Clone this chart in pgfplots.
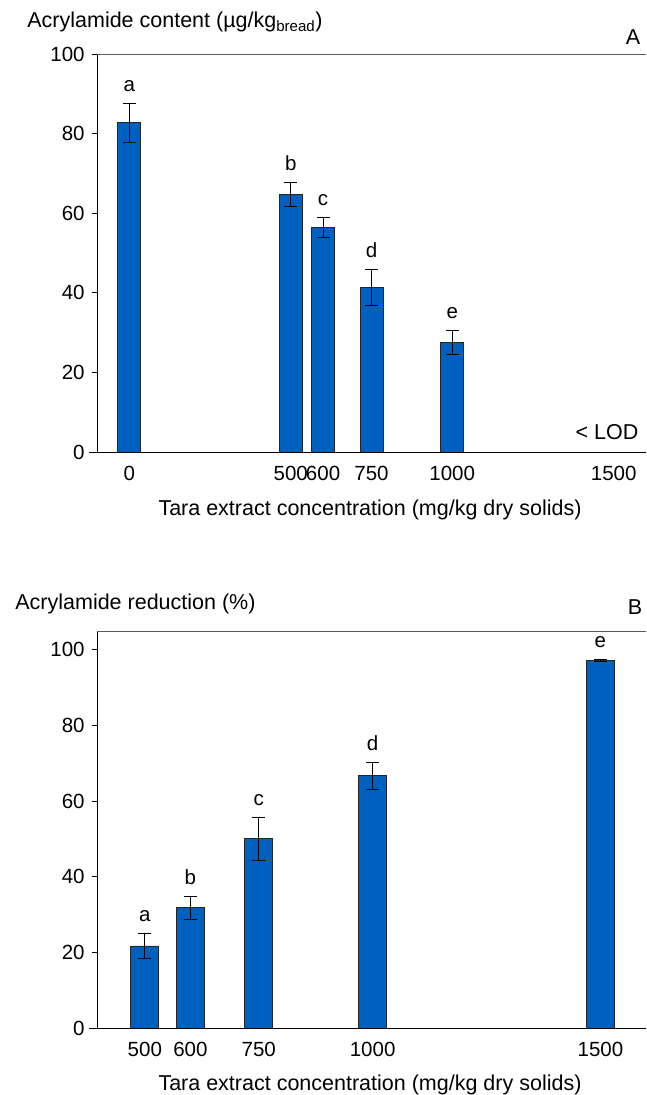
\documentclass[border=0pt]{standalone}
\usepackage{pgfplots}
\pgfplotsset{compat=1.18}
\usepackage{fontspec}
\setmainfont{Liberation Sans}
\definecolor{barblue}{RGB}{0,96,192}
\definecolor{topgray}{RGB}{90,90,90}

\pgfplotstableread{
x y e t lab
0 82.7 4.9 87.6 a
500 64.7 2.9 67.6 b
600 56.5 2.5 59.0 c
750 41.3 4.6 45.9 d
1000 27.5 3.0 30.5 e
}\dataA

\pgfplotstableread{
x y e t lab
500 21.7 3.3 25.0 a
600 31.8 3.0 34.8 b
750 50.1 5.7 55.8 c
1000 66.7 3.5 70.2 d
1500 97.2 0.3 97.5 e
}\dataB

\pgfplotsset{
  myaxis/.style={
    scale only axis, width=549pt, anchor=south west,
    clip=false,
    axis line style={draw=none},
    ymin=0,
    ytick={0,20,40,60,80,100},
    ytick pos=left, tick align=outside, major tick length=5pt,
    major y tick style={black, line width=0.9pt},
    major x tick style={draw=none},
    /pgf/number format/assume math mode=true,
    ticklabel style={font=\fontsize{20.5}{24}\selectfont},
    yticklabel style={xshift=0pt},
    xticklabel style={yshift=-2pt},
  },
  mybars/.style={
    ybar, fill=barblue, draw=black!85, line width=0.7pt, mark=none,
    error bars/.cd, y dir=both, y explicit,
    error bar style={black, line width=0.9pt},
    error mark options={rotate=90, mark size=6.5pt, black, line width=0.9pt},
  },
  myletters/.style={
    draw=none, mark=none, nodes near coords, point meta=explicit symbolic,
    nodes near coords style={anchor=base, inner sep=0pt, yshift=12pt, black, font=\fontsize{20.5}{24}\selectfont},
  },
}

\begin{document}
\fontsize{21.5}{25}\selectfont
\begin{tikzpicture}[x=1pt,y=1pt]
\path[use as bounding box] (0,0) rectangle (646,1095);

% ---------- Panel A ----------
\begin{axis}[myaxis,
  at={(97pt,643pt)}, height=398pt,
  xmin=-100, xmax=1600, ymax=100,
  xtick={0,500,600,750,1000,1500},
  xticklabels={0,500,600,750,1000,1500},
]
\addplot[bar width=23pt, mybars] table[x=x, y=y, y error=e] {\dataA};
\addplot[myletters] table[x=x, y=t, meta=lab] {\dataA};
\draw[black, line width=0.9pt] (rel axis cs:0,0) -- (rel axis cs:0,1);
\draw[topgray, line width=0.9pt] (rel axis cs:0,1) -- (rel axis cs:1,1);
\draw[black, line width=0.9pt] ([xshift=-8pt]rel axis cs:0,0) -- (rel axis cs:1,0);
\end{axis}

\node[anchor=west] at (20,1073) {Acrylamide content (µg/kg\textsubscript{bread})};
\node at (633,1058) {A};
\node at (607,663) {< LOD};
\node at (370,585) {Tara extract concentration (mg/kg dry solids)};

% ---------- Panel B ----------
\begin{axis}[myaxis,
  at={(97pt,67pt)}, height=397pt,
  xmin=395, xmax=1600, ymax=105,
  xtick={500,600,750,1000,1500},
  xticklabels={500,600,750,1000,1500},
]
\addplot[bar width=28pt, mybars] table[x=x, y=y, y error=e] {\dataB};
\addplot[myletters] table[x=x, y=t, meta=lab] {\dataB};
\draw[black, line width=0.9pt] (rel axis cs:0,0) -- (rel axis cs:0,1);
\draw[topgray, line width=0.9pt] (rel axis cs:0,1) -- (rel axis cs:1,1);
\draw[black, line width=0.9pt] ([xshift=-8pt]rel axis cs:0,0) -- (rel axis cs:1,0);
\end{axis}

\node[anchor=west] at (8,491) {Acrylamide reduction (\%)};
\node at (635,488) {B};
\node at (370,10) {Tara extract concentration (mg/kg dry solids)};
\end{tikzpicture}
\end{document}
